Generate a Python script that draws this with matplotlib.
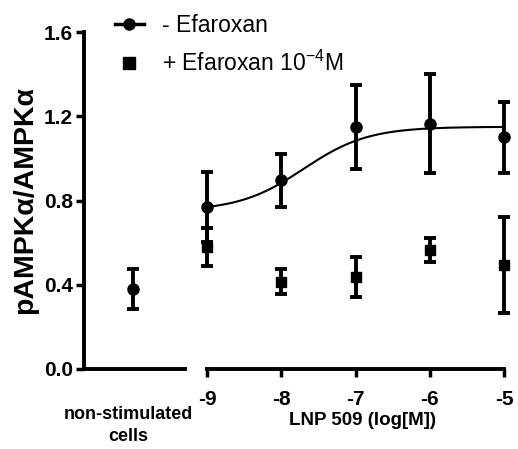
import numpy as np
import matplotlib
matplotlib.use("Agg")
import matplotlib.pyplot as plt
from matplotlib.lines import Line2D

plt.rcParams['font.family'] = ['Liberation Sans', 'DejaVu Sans']
plt.rcParams['axes.unicode_minus'] = False
plt.rcParams['mathtext.fontset'] = 'custom'
plt.rcParams['mathtext.rm'] = 'Liberation Sans'
plt.rcParams['mathtext.default'] = 'regular'

# ── data ─────────────────────────────────────────────────────────────────────
log_conc = [-9, -8, -7, -6, -5]
minus_mean = [0.77, 0.895, 1.15, 1.165, 1.10]
minus_err = [0.165, 0.125, 0.20, 0.235, 0.17]
plus_mean = [0.58, 0.415, 0.437, 0.565, 0.494]
plus_err = [0.09, 0.06, 0.095, 0.057, 0.228]
basal_mean = [0.38]
basal_err = [0.095]

# sigmoidal fit (bottom, top, logEC50, hill) estimated from the drawn curve
fit_bottom, fit_top, fit_logec50, fit_hill = 0.75, 1.15, -7.7, 1.0

y_ticks = [0.0, 0.4, 0.8, 1.2, 1.6]
x_ticks = [-9, -8, -7, -6, -5]

W, H = 518, 449
fig = plt.figure(figsize=(W / 100, H / 100), dpi=100)

def box(x0, x1, ytop, ybot):
    return [x0 / W, 1 - ybot / H, (x1 - x0) / W, (ybot - ytop) / H]

ax_l = fig.add_axes(box(84, 185, 32, 369))
ax_r = fig.add_axes(box(207, 518, 32, 369), sharey=ax_l)

eb = dict(color='black', elinewidth=2.8, capsize=4.5, capthick=2.8,
          linestyle='none', clip_on=False, zorder=3)

# non-stimulated cells
ax_l.errorbar([0], basal_mean, yerr=basal_err, marker='o', markersize=8, **eb)
ax_l.set_xlim(-0.97, 1.03)

# dose response
ax_r.errorbar(log_conc, minus_mean, yerr=minus_err, marker='o', markersize=8, **eb)
ax_r.errorbar(log_conc, plus_mean, yerr=plus_err, marker='s', markersize=7, **eb)
xs = np.linspace(log_conc[0], log_conc[-1], 200)
curve = fit_bottom + (fit_top - fit_bottom) / (1 + 10 ** ((fit_logec50 - xs) * fit_hill))
ax_r.plot(xs, curve, color='black', lw=1.5, zorder=2)
ax_r.set_xlim(-9, -9 + 311 / 74.25)

ax_l.set_ylim(0, 1.6)
ax_l.set_yticks(y_ticks)
ax_l.set_yticklabels([f"{v:.1f}" for v in y_ticks])
ax_l.set_xticks([])
ax_r.set_xticks(x_ticks)
ax_r.set_xticklabels([str(v) for v in x_ticks])
ax_r.set_xticks([-9], minor=True)

for ax in (ax_l, ax_r):
    for s in ('top', 'right'):
        ax.spines[s].set_visible(False)
    ax.spines['bottom'].set_linewidth(2.8)
    ax.spines['left'].set_linewidth(2.8)
    ax.tick_params(width=2.5, length=6, labelsize=15, pad=2)
    for lab in ax.get_xticklabels() + ax.get_yticklabels():
        lab.set_fontweight('bold')

ax_r.spines['left'].set_visible(False)
ax_r.spines['bottom'].set_bounds(-9, -5)
ax_r.tick_params(axis='y', left=False, labelleft=False)
ax_r.tick_params(axis='x', pad=9)
ax_r.tick_params(axis='x', which='minor', direction='in', length=6, width=2.5)

ax_l.set_ylabel('pAMPKα/AMPKα', fontsize=20.5, fontweight='bold', labelpad=4)
ax_r.set_xlabel('LNP 509 (log[M])', fontsize=13.5, fontweight='bold', labelpad=2)
fig.text(128 / W, 1 - 406 / H, 'non-stimulated\ncells', ha='center', va='top',
         fontsize=13, fontweight='bold', linespacing=1.4)

handles = [Line2D([], [], color='black', lw=2.5, marker='o', markersize=8),
           Line2D([], [], color='black', lw=0, marker='s', markersize=8)]
labels = ['- Efaroxan', '+ Efaroxan 10$^{-4}$M']
fig.legend(handles, labels, loc='upper left', bbox_to_anchor=(115 / W, 1 - 14 / H),
           frameon=False, fontsize=16.5, handlelength=1.25, handletextpad=0.8,
           labelspacing=0.6, borderpad=0, borderaxespad=0)

fig.savefig('out.png', dpi=100)
